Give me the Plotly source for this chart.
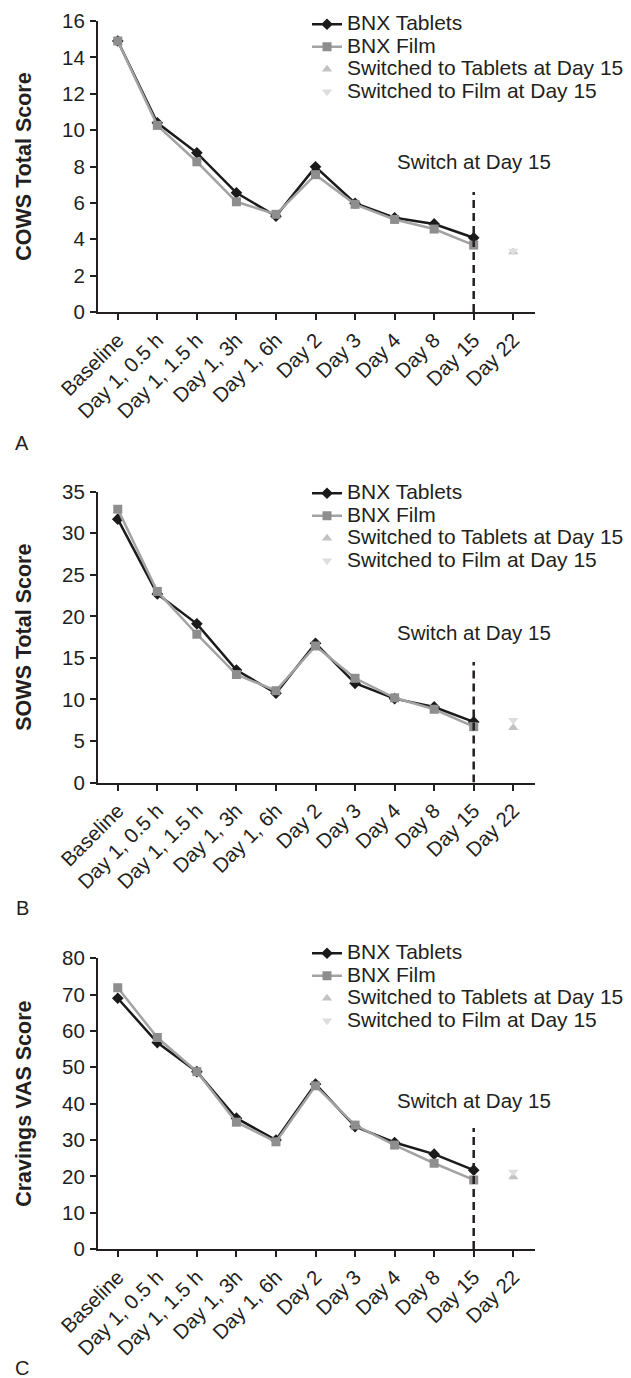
import plotly.graph_objects as go

categories = ["Baseline", "Day 1, 0.5 h", "Day 1, 1.5 h", "Day 1, 3h", "Day 1, 6h",
              "Day 2", "Day 3", "Day 4", "Day 8", "Day 15", "Day 22"]
main_cats = categories[:10]
switch_cat = ["Day 22"]

# Panel A - COWS
cows_tablets = [14.9, 10.4, 8.75, 6.55, 5.27, 7.98, 5.98, 5.18, 4.84, 4.08]
cows_film = [14.9, 10.26, 8.26, 6.06, 5.37, 7.55, 5.92, 5.09, 4.56, 3.68]
cows_sw_tablets = [3.3]
cows_sw_film = [3.35]

# Panel B - SOWS
sows_tablets = [31.7, 22.7, 19.1, 13.55, 10.75, 16.76, 11.95, 10.1, 9.1, 7.3]
sows_film = [32.9, 23.0, 17.85, 13.0, 11.06, 16.44, 12.55, 10.2, 8.82, 6.73]
sows_sw_tablets = [6.6]
sows_sw_film = [7.5]

# Panel C - Cravings VAS
vas_tablets = [69.0, 56.8, 48.8, 36.0, 30.0, 45.4, 33.7, 29.3, 26.1, 21.7]
vas_film = [71.9, 58.2, 48.8, 34.9, 29.5, 44.9, 34.1, 28.6, 23.6, 19.0]
vas_sw_tablets = [19.8]
vas_sw_film = [21.2]

y_titles = ["COWS Total Score", "SOWS Total Score", "Cravings VAS Score"]
y_max = [16, 35, 80]
y_dtick = [2, 5, 10]
switch_line_top = [6.6, 14.5, 33.3]
switch_text_y = [8.25, 18.0, 41.0]
panel_letters = ["A", "B", "C"]
legend_names = ["BNX Tablets", "BNX Film", "Switched to Tablets at Day 15", "Switched to Film at Day 15"]

panels = [
    (cows_tablets, cows_film, cows_sw_tablets, cows_sw_film),
    (sows_tablets, sows_film, sows_sw_tablets, sows_sw_film),
    (vas_tablets, vas_film, vas_sw_tablets, vas_sw_film),
]

H = 1378.0
W = 631.0
FONT = "Liberation Sans, Arial, sans-serif"
INK = "#231f20"

# pixel layout (top, bottom) of each plot area
plot_px = [(21, 312), (491.7, 782.6), (958.3, 1249)]
x_px = (98, 535)
legend_top_px = [8, 477, 937]
letter_px = [443, 908, 1368]


def legend_label(s):
    return "<span style='font-size:21px'>" + s + "</span>"


fig = go.Figure()
layout = dict(
    width=631, height=1378,
    margin=dict(l=0, r=0, t=0, b=0, autoexpand=False),
    paper_bgcolor="white", plot_bgcolor="white",
    font=dict(family=FONT, size=20, color=INK),
    showlegend=True,
    annotations=[], shapes=[],
)

for i, (tab, film, swt, swf) in enumerate(panels):
    sfx = "" if i == 0 else str(i + 1)
    xa, ya = "x" + sfx, "y" + sfx
    lg = "legend" + sfx
    fig.add_trace(go.Scatter(
        x=main_cats, y=tab, xaxis=xa, yaxis=ya, mode="lines+markers",
        name=legend_label(legend_names[0]), legend=lg,
        line=dict(color="#1a1a1a", width=2.5),
        marker=dict(symbol="diamond", size=9, color="#1a1a1a")))
    fig.add_trace(go.Scatter(
        x=main_cats, y=film, xaxis=xa, yaxis=ya, mode="lines+markers",
        name=legend_label(legend_names[1]), legend=lg,
        line=dict(color="#a3a3a3", width=2.5),
        marker=dict(symbol="square", size=9, color="#8e8e8e")))
    fig.add_trace(go.Scatter(
        x=switch_cat, y=swt, xaxis=xa, yaxis=ya, mode="markers",
        name=legend_label(legend_names[2]), legend=lg,
        marker=dict(symbol="triangle-up", size=9, color="#c2c2c2")))
    fig.add_trace(go.Scatter(
        x=switch_cat, y=swf, xaxis=xa, yaxis=ya, mode="markers",
        name=legend_label(legend_names[3]), legend=lg,
        marker=dict(symbol="triangle-down", size=9, color="#dedede")))

    top, bot = plot_px[i]
    dom = [1 - bot / H, 1 - top / H]
    layout["xaxis" + sfx] = dict(
        domain=[x_px[0] / W, x_px[1] / W], anchor=ya, automargin=False,
        type="category", categoryorder="array", categoryarray=categories,
        range=[-0.5, 10.55], showline=True, linecolor=INK, linewidth=2,
        ticks="outside", ticklen=6, tickwidth=2, tickcolor=INK,
        tickangle=-45, showgrid=False, zeroline=False,
        tickfont=dict(size=20.5, color=INK, family=FONT))
    layout["yaxis" + sfx] = dict(
        domain=dom, anchor=xa, range=[0, y_max[i]], dtick=y_dtick[i],
        automargin=False,
        showline=True, linecolor=INK, linewidth=2,
        ticks="outside", ticklen=6, tickwidth=2, tickcolor=INK,
        ticklabelstandoff=1, showgrid=False, zeroline=False,
        tickfont=dict(size=20.5, color=INK, family=FONT),
        title=dict(text="<b>" + y_titles[i] + "</b>", standoff=25,
                   font=dict(size=21.5, color=INK, family=FONT)))
    layout[lg] = dict(
        x=307 / W, y=1 - legend_top_px[i] / H, xanchor="left", yanchor="top",
        bgcolor="rgba(0,0,0,0)", font=dict(size=15, color=INK, family=FONT),
        tracegroupgap=0, itemwidth=30)
    layout["shapes"].append(dict(
        type="line", xref=xa, yref=ya, x0="Day 15", x1="Day 15",
        y0=0, y1=switch_line_top[i],
        line=dict(color=INK, width=2.5, dash="8px,5px")))
    layout["annotations"].append(dict(
        xref=xa, yref=ya, x="Day 15", y=switch_text_y[i], text="Switch at Day 15",
        showarrow=False, font=dict(size=20.5, color=INK, family=FONT)))
    layout["annotations"].append(dict(
        xref="paper", yref="paper", x=22 / W, y=1 - letter_px[i] / H,
        text=panel_letters[i], showarrow=False, xanchor="center", yanchor="middle",
        font=dict(size=20, color=INK, family=FONT)))

fig.update_layout(**layout)
fig.write_html("out.html", config={"displayModeBar": False},
               post_script="document.body.style.margin='0';document.body.style.overflow='hidden';")
